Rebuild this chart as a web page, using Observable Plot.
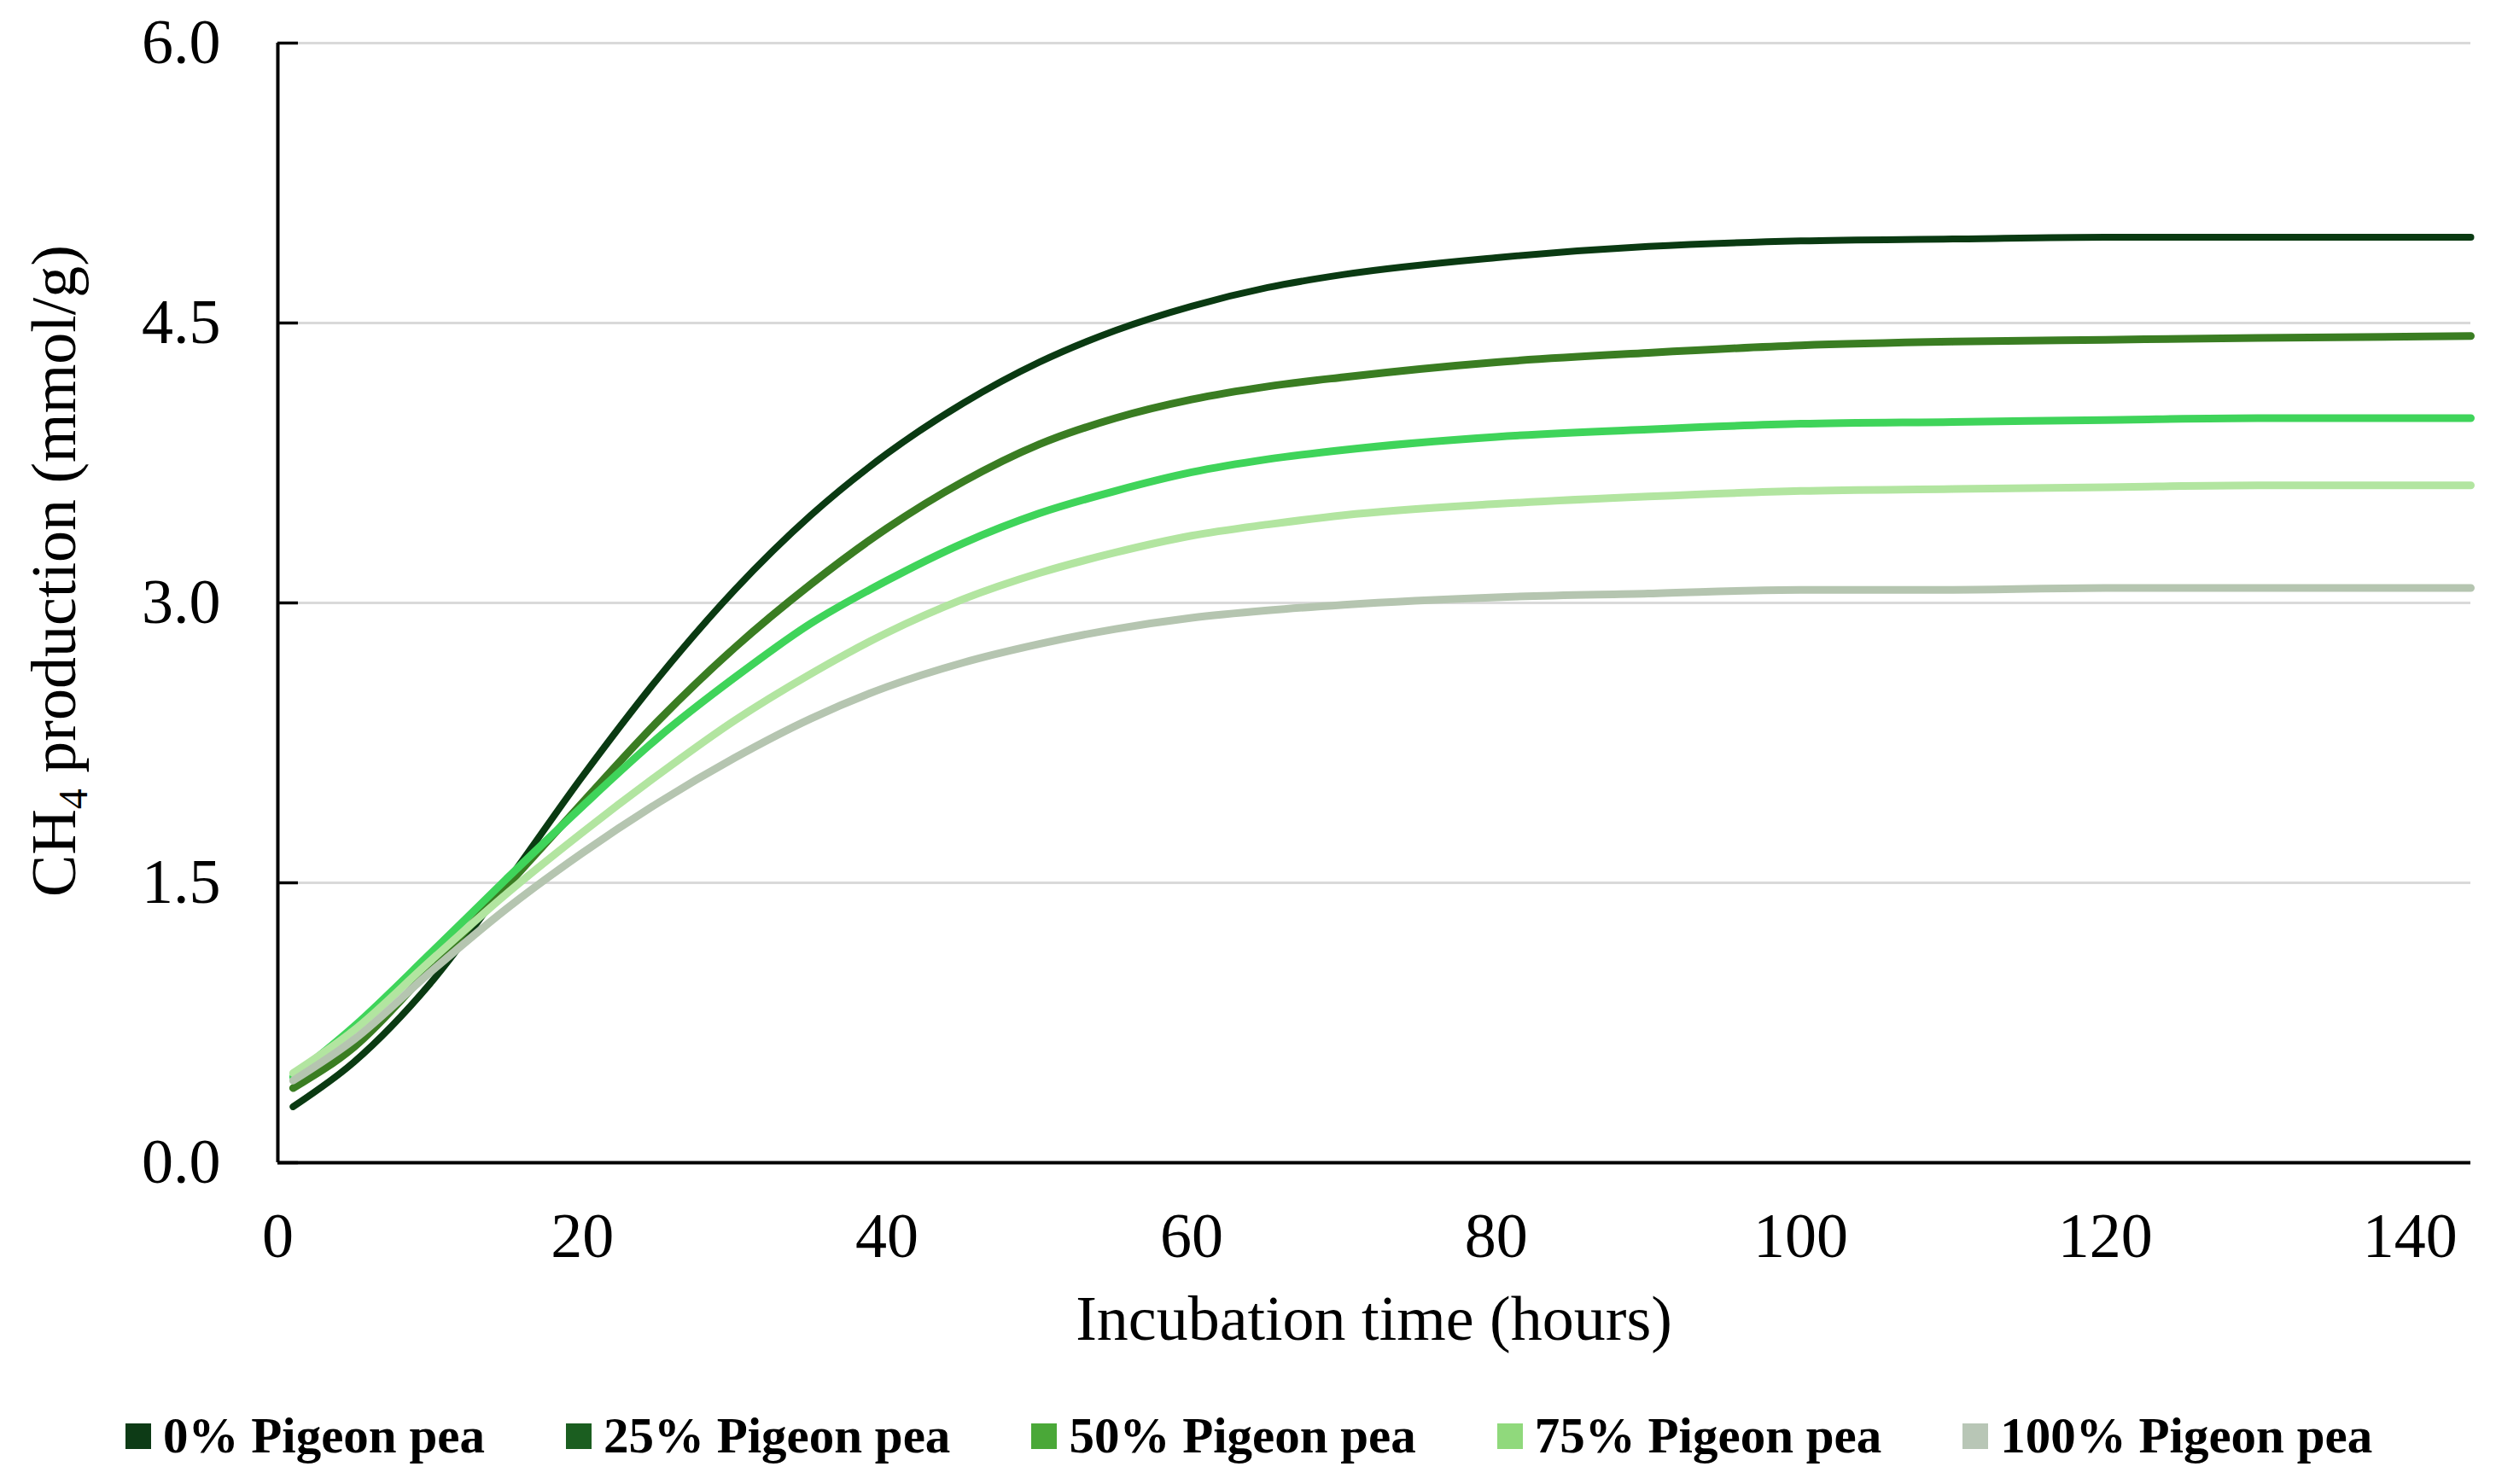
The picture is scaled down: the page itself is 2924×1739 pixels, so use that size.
<!DOCTYPE html>
<html><head><meta charset="utf-8">
<script src="https://cdn.jsdelivr.net/npm/d3@7"></script>
<script src="https://cdn.jsdelivr.net/npm/@observablehq/plot@0.6"></script>
<style>
html,body{margin:0;padding:0;background:#fff;}
#wrap{width:2924px;height:1739px;position:relative;overflow:hidden;font-family:"Liberation Serif","Times New Roman",serif;background:#fff;}
#legend{position:absolute;left:147px;top:1653px;display:flex;align-items:center;gap:95px;font-weight:bold;font-size:59px;color:#000;line-height:1;}
.item{display:flex;align-items:center;gap:14px;}
.sw{width:30px;height:30px;}
</style></head><body><div id="wrap"><div id="chart"></div><div id="legend"></div></div>
<script>
const hours = [1,5,10,15,20,25,30,35,40,45,50,55,60,65,70,80,90,100,110,120,130,144];
const seriesNames = ["0% Pigeon pea","25% Pigeon pea","50% Pigeon pea","75% Pigeon pea","100% Pigeon pea"];
const ch4_0   = [0.30,0.54,0.96,1.50,2.07,2.60,3.07,3.47,3.80,4.07,4.29,4.46,4.59,4.69,4.76,4.85,4.91,4.94,4.95,4.96,4.96,4.96];
const ch4_25  = [0.40,0.62,1.04,1.48,1.93,2.37,2.76,3.10,3.40,3.65,3.85,3.99,4.09,4.16,4.21,4.29,4.34,4.38,4.40,4.41,4.42,4.43];
const ch4_50  = [0.46,0.73,1.12,1.52,1.91,2.28,2.60,2.89,3.12,3.32,3.48,3.60,3.70,3.77,3.82,3.89,3.93,3.96,3.97,3.98,3.99,3.99];
const ch4_75  = [0.48,0.71,1.08,1.44,1.77,2.08,2.37,2.62,2.84,3.02,3.16,3.27,3.36,3.42,3.47,3.53,3.57,3.60,3.61,3.62,3.63,3.63];
const ch4_100 = [0.44,0.66,1.02,1.36,1.66,1.93,2.17,2.38,2.55,2.68,2.78,2.86,2.92,2.96,2.99,3.03,3.05,3.07,3.07,3.08,3.08,3.08];
const lineColors   = ["#0a3a12","#3a7d22","#3fd45a","#b2e5a0","#b5c5b0"];
const legendColors = ["#0d3b16","#1b5e20","#4aa838","#90d97c","#b8c6b6"];
const xTicks = [0,20,40,60,80,100,120,140];
const yTicks = [0,1.5,3,4.5,6];
const xTitle = "Incubation time (hours)";

const allValues = [ch4_0, ch4_25, ch4_50, ch4_75, ch4_100];
const rows = seriesNames.flatMap((s, i) => hours.map((h, j) => ({series: s, hour: h, ch4: allValues[i][j]})));

const plot = Plot.plot({
  width: 2924, height: 1620,
  marginLeft: 325, marginRight: 30, marginTop: 50, marginBottom: 258,
  x: {domain: [0, 144], ticks: xTicks},
  y: {domain: [0, 6], ticks: yTicks},
  style: {fontFamily: "'Liberation Serif','Times New Roman',serif", fontSize: "74px", color: "#000", background: "#fff", overflow: "visible"},
  marks: [
    Plot.ruleY(yTicks, {stroke: "#d9d9d9", strokeWidth: 3}),
    Plot.ruleX([0], {stroke: "#000", strokeWidth: 4}),
    Plot.ruleY([0], {stroke: "#000", strokeWidth: 4}),
    Plot.axisY({ticks: yTicks, tickFormat: d3.format(".1f"), tickSize: -24, tickPadding: 91, strokeWidth: 3.5, label: null, fontSize: 74}),
    Plot.axisX({ticks: xTicks, tickSize: 0, tickPadding: 58, label: null, fontSize: 74}),
    ...seriesNames.map((s, i) => Plot.line(rows.filter(r => r.series === s), {
      x: "hour", y: "ch4", stroke: lineColors[i], strokeWidth: i === 0 ? 8 : 9, curve: "monotone-x"
    }))
  ]
});

const svg = d3.select(plot);
const xr = plot.scale("x").range;
const yr = plot.scale("y").range;
svg.append("text")
  .attr("x", (xr[0] + xr[1]) / 2).attr("y", yr[0] + 208)
  .attr("text-anchor", "middle").attr("font-size", 74).attr("fill", "#000")
  .text(xTitle);
const yt = svg.append("text")
  .attr("transform", `translate(88,${(yr[0] + yr[1]) / 2 - 37}) rotate(-90)`)
  .attr("text-anchor", "middle").attr("font-size", 74).attr("fill", "#000");
yt.append("tspan").text("CH");
yt.append("tspan").attr("font-size", 48).attr("dy", 14).text("4");
yt.append("tspan").attr("dy", -14).text(" production (mmol/g)");

document.getElementById("chart").appendChild(plot);

const legend = d3.select("#legend");
seriesNames.forEach((s, i) => {
  const it = legend.append("div").attr("class", "item");
  it.append("div").attr("class", "sw").style("background", legendColors[i]);
  it.append("span").text(s);
});
</script></body></html>
